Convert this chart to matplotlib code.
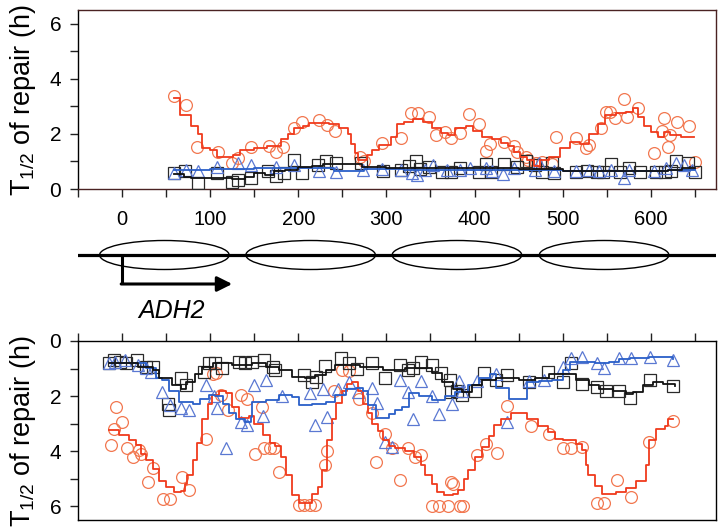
import matplotlib
matplotlib.use("Agg")
import matplotlib.pyplot as plt
from matplotlib.patches import Ellipse
import numpy as np

plt.rcParams['font.family'] = ['Liberation Sans', 'DejaVu Sans']
plt.rcParams['mathtext.fontset'] = 'custom'
plt.rcParams['mathtext.rm'] = 'Liberation Sans'
plt.rcParams['mathtext.it'] = 'Liberation Sans:italic'

# ---------------- top panel data ----------------
top_red_x = [59, 72, 85, 109, 125, 132, 146, 167, 175, 183, 195, 204, 224, 232, 242, 270, 274, 295, 316, 328,
             336, 348, 356, 366, 373, 384, 394, 405, 413, 418, 433, 445, 448, 458, 461, 470, 477, 488, 493, 515,
             527, 530, 543, 549, 554, 559, 570, 573, 585, 604, 613, 615, 619, 622, 630, 643, 650]
top_red_y = [3.36, 3.05, 1.54, 1.36, 0.94, 1.12, 1.54, 1.56, 1.33, 1.54, 2.2, 2.42, 2.5, 2.33, 2.12, 1.17, 1.0, 1.67,
             1.85, 2.75, 2.75, 2.63, 1.97, 2.08, 1.87, 2.05, 2.72, 2.36, 1.38, 1.64, 1.72, 1.56, 1.35, 1.17, 1.05,
             0.94, 0.98, 0.9, 1.9, 1.87, 1.48, 1.6, 2.23, 2.78, 2.8, 2.57, 3.27, 2.6, 2.93, 1.32, 2.1, 2.57, 1.54,
             1.97, 2.42, 2.27, 0.97]
top_red_sx = [59, 66, 78, 86, 91, 100, 108, 126, 134, 150, 165, 180, 188, 195, 205, 212, 235, 246, 256, 260, 264,
              268, 278, 284, 292, 305, 312, 320, 330, 342, 352, 362, 370, 378, 390, 398, 408, 420, 430, 438, 445,
              452, 460, 468, 474, 485, 497, 508, 520, 530, 540, 548, 560, 572, 580, 586, 592, 600, 608, 615, 622,
              634, 649]
top_red_sy = [3.3, 2.7, 2.3, 2.0, 1.5, 1.4, 1.15, 1.25, 1.4, 1.5, 1.55, 1.8, 2.0, 2.2, 2.3, 2.4, 2.35, 2.2, 2.0, 1.65,
              1.3, 1.05, 1.25, 1.4, 1.6, 1.9, 2.35, 2.45, 2.55, 2.45, 2.2, 2.05, 1.95, 2.2, 2.3, 2.1, 1.9, 1.8, 1.67,
              1.56, 1.35, 1.17, 1.05, 0.85, 1.05, 1.17, 1.5, 1.7, 1.65, 2.0, 2.35, 2.7, 2.75, 2.8, 2.93, 2.6, 2.27,
              2.08, 1.9, 2.08, 1.96, 1.9, 1.9]

top_blk_x = [59, 71, 86, 108, 125, 132, 146, 166, 175, 184, 195, 204, 222, 231, 243, 271, 296, 316, 326, 333, 338,
             348, 363, 373, 384, 405, 413, 419, 433, 448, 458, 469, 477, 488, 490, 515, 528, 539, 546, 555, 565, 575,
             588, 606, 616, 623, 629, 642, 650]
top_blk_y = [0.58, 0.64, 0.23, 0.58, 0.27, 0.33, 0.4, 0.64, 0.46, 0.58, 1.05, 0.58, 0.88, 1.0, 0.94, 0.94, 0.65, 0.7,
             0.85, 1.0, 0.72, 0.8, 0.63, 0.63, 0.75, 0.63, 0.9, 0.63, 0.9, 0.8, 1.03, 0.87, 0.63, 0.94, 0.58, 0.63,
             0.66, 0.63, 0.6, 0.9, 0.63, 0.75, 0.6, 0.6, 0.63, 0.66, 1.0, 0.94, 0.6]
top_blk_sx = [59, 70, 78, 125, 140, 150, 162, 172, 185, 200, 215, 228, 272, 300, 350, 400, 450, 500, 560, 620, 635, 650]
top_blk_sy = [0.55, 0.45, 0.4, 0.35, 0.45, 0.58, 0.52, 0.64, 0.7, 0.8, 0.85, 0.9, 0.8, 0.75, 0.78, 0.75, 0.72, 0.65,
              0.65, 0.7, 0.75, 0.75]

top_blu_x = [59, 72, 86, 108, 132, 146, 175, 195, 224, 243, 273, 295, 316, 329, 335, 344, 353, 369, 384, 395, 413,
             420, 432, 445, 469, 473, 490, 515, 530, 541, 555, 570, 575, 604, 617, 629, 638, 647]
top_blu_y = [0.58, 0.7, 0.64, 0.8, 0.94, 0.88, 0.8, 0.88, 0.64, 0.6, 0.7, 0.73, 0.68, 0.58, 0.52, 0.7, 0.88, 0.7,
             0.68, 0.75, 0.75, 0.65, 0.55, 0.75, 0.7, 0.94, 0.65, 0.65, 0.68, 0.65, 0.7, 0.4, 0.7, 0.65, 0.75, 0.94,
             0.88, 0.7]
top_blu_sx = [59, 100, 150, 200, 240, 275, 320, 380, 450, 500, 560, 620, 650]
top_blu_sy = [0.7, 0.72, 0.75, 0.78, 0.65, 0.72, 0.7, 0.68, 0.68, 0.65, 0.65, 0.7, 0.72]

# ---------------- bottom panel data ----------------
bot_red_x = [-13, -9, -7, 0, 6, 12, 19, 21, 29, 35, 46, 54, 68, 76, 95, 103, 107, 112, 120, 135, 142, 151, 159, 161,
             168, 172, 178, 201, 207, 213, 219, 230, 233, 241, 250, 258, 269, 284, 288, 298, 306, 315, 324, 332, 339,
             352, 360, 370, 373, 376, 384, 387, 403, 413, 425, 437, 464, 485, 500, 509, 522, 539, 547, 562, 578, 598,
             625]
bot_red_y = [3.78, 3.2, 2.4, 2.93, 3.9, 4.2, 3.95, 4.1, 5.13, 4.6, 5.75, 5.75, 4.95, 5.4, 3.55, 1.2, 1.17, 1.95, 2.5,
             1.95, 2.12, 4.1, 2.4, 3.9, 3.9, 3.9, 4.75, 5.95, 5.95, 5.95, 5.95, 4.5, 4.0, 1.8, 1.05, 1.1, 2.12, 2.6,
             4.4, 3.38, 3.9, 5.05, 3.9, 4.2, 4.15, 6.0, 6.0, 6.0, 5.13, 5.2, 6.0, 6.0, 4.15, 3.75, 4.08, 2.37, 3.1,
             3.38, 3.88, 3.88, 3.85, 5.9, 5.9, 5.05, 5.67, 3.65, 2.9]
bot_red_sx = [-15, -3, 8, 16, 21, 27, 35, 42, 50, 59, 67, 71, 74, 80, 85, 91, 97, 102, 110, 118, 125, 133, 144, 150,
              160, 168, 174, 180, 186, 193, 201, 209, 216, 222, 227, 233, 238, 243, 250, 255, 261, 268, 273, 279,
              284, 290, 296, 303, 310, 321, 331, 339, 344, 352, 357, 365, 375, 381, 388, 393, 401, 409, 416, 422,
              430, 441, 456, 460, 472, 483, 491, 500, 515, 522, 526, 529, 537, 545, 560, 572, 583, 595, 598, 606,
              616, 619, 625]
bot_red_sy = [3.24, 3.42, 3.6, 3.78, 4.1, 4.33, 4.64, 5.07, 5.3, 5.5, 5.45, 5.2, 4.85, 4.33, 3.7, 2.85, 2.27, 1.97,
              1.8, 1.9, 2.4, 2.8, 2.72, 3.0, 3.42, 3.72, 3.8, 4.2, 4.85, 5.6, 5.9, 5.9, 5.55, 5.3, 4.7, 3.6, 2.83,
              2.25, 1.8, 1.55, 1.5, 1.8, 2.3, 2.6, 3.0, 3.25, 3.6, 3.8, 3.9, 4.0, 4.2, 4.5, 4.85, 5.2, 5.5, 5.6, 5.55,
              5.4, 5.0, 4.7, 4.2, 3.85, 3.45, 3.05, 2.85, 2.6, 2.6, 2.85, 3.1, 3.3, 3.55, 3.6, 3.75, 3.95, 4.5, 4.85,
              5.25, 5.55, 5.5, 5.35, 5.1, 4.5, 3.6, 3.2, 3.1, 2.85, 2.85]

bot_blk_x = [-15, -9, -2, 5, 17, 27, 35, 52, 53, 67, 72, 93, 99, 106, 113, 133, 140, 148, 161, 171, 174, 207, 215,
             220, 230, 249, 257, 267, 284, 298, 315, 324, 330, 339, 352, 362, 372, 373, 380, 386, 401, 411, 424, 437,
             462, 483, 500, 509, 522, 539, 549, 564, 576, 599, 625]
bot_blk_y = [0.8, 0.69, 0.75, 0.8, 0.7, 0.93, 0.93, 2.3, 2.5, 1.35, 1.6, 1.12, 0.8, 0.8, 0.98, 0.75, 0.8, 0.75, 0.69,
             0.93, 1.05, 1.24, 1.5, 1.3, 0.9, 0.62, 0.8, 1.0, 0.8, 1.35, 0.87, 1.05, 0.98, 0.75, 0.87, 1.17, 1.4,
             1.85, 1.8, 1.97, 1.8, 1.15, 1.4, 1.25, 1.5, 1.12, 1.5, 0.8, 1.55, 1.67, 1.8, 1.8, 2.07, 1.42, 1.65]
bot_blk_sx = [-15, 18, 35, 42, 57, 67, 73, 83, 91, 103, 125, 148, 163, 178, 193, 208, 219, 231, 242, 270, 296, 321,
              339, 352, 363, 375, 386, 397, 409, 424, 450, 469, 484, 515, 530, 541, 557, 572, 580, 591, 602, 614, 627]
bot_blk_sy = [0.8, 0.93, 1.05, 1.35, 1.6, 1.75, 1.5, 1.2, 0.93, 0.8, 0.87, 0.8, 0.93, 1.05, 1.3, 1.35, 1.25, 1.05,
              0.87, 0.93, 1.05, 0.98, 0.98, 1.17, 1.5, 1.75, 1.85, 1.6, 1.4, 1.35, 1.4, 1.35, 1.2, 1.4, 1.6, 1.75,
              1.8, 1.92, 1.85, 1.6, 1.5, 1.55, 1.65]

bot_blu_x = [-15, -8, 3, 18, 27, 33, 45, 54, 67, 76, 95, 104, 108, 118, 135, 142, 150, 160, 163, 181, 213, 219, 228,
             233, 245, 258, 268, 284, 289, 298, 306, 315, 324, 330, 339, 352, 360, 374, 382, 386, 403, 424, 437, 462,
             479, 500, 509, 522, 539, 547, 564, 578, 599, 625]
bot_blu_y = [0.8, 0.75, 0.69, 0.87, 0.98, 1.12, 1.85, 2.33, 2.45, 2.5, 1.6, 2.0, 2.45, 3.9, 2.95, 3.05, 1.6, 2.72,
             1.42, 2.0, 1.9, 3.05, 1.75, 2.75, 1.75, 1.5, 1.85, 1.7, 2.25, 3.68, 3.85, 1.4, 1.85, 2.83, 1.45, 2.0,
             2.65, 2.27, 1.45, 1.8, 1.45, 1.2, 2.95, 1.45, 1.4, 0.93, 0.62, 0.57, 0.8, 0.98, 0.62, 0.62, 0.57, 0.69]
bot_blu_sx = [-15, 12, 27, 38, 45, 53, 65, 80, 89, 99, 106, 114, 121, 129, 140, 146, 148, 163, 178, 193, 201, 216,
              231, 242, 254, 265, 273, 279, 288, 303, 310, 318, 326, 337, 352, 367, 378, 393, 405, 418, 424, 439,
              460, 473, 488, 500, 508, 537, 553, 564, 576, 598, 625]
bot_blu_sy = [0.8, 0.8, 0.98, 1.35, 1.42, 1.8, 2.2, 2.27, 2.1, 1.97, 2.0, 2.27, 2.6, 2.83, 2.95, 2.75, 2.2, 2.15,
              1.97, 2.03, 2.33, 2.27, 2.2, 1.97, 1.75, 1.7, 1.8, 2.33, 2.8, 2.65, 2.5, 2.4, 1.9, 2.0, 2.15, 2.0, 1.85,
              1.6, 1.35, 1.2, 1.7, 2.1, 1.5, 1.45, 1.4, 1.05, 0.75, 0.8, 0.75, 0.65, 0.6, 0.58, 0.65]

# ---------------- gene schematic ----------------
xticks_major = [0, 100, 200, 300, 400, 500, 600]
xticks_minor = [-50, 50, 150, 250, 350, 450, 550, 650]
yticks_major = [0, 2, 4, 6]
yticks_minor = [1, 3, 5]
nuc_centers = [48, 214, 380, 547]
nuc_width = 147
tss = 0
arrow_end = 125
gene_name = 'ADH2'

RED_L, RED_M = '#f03a1c', '#f2774f'
BLK_L, BLK_M = '#111111', '#2a2a2a'
BLU_L, BLU_M = '#2a5fc8', '#5a78d2'

W, H = 726, 529
fig = plt.figure(figsize=(W / 100, H / 100), dpi=100)

def fr(x0, y0, x1, y1):
    return [x0 / W, 1 - y1 / H, (x1 - x0) / W, (y1 - y0) / H]

ax1 = fig.add_axes(fr(78, 10, 716, 189))
ax2 = fig.add_axes(fr(78, 341, 716, 520))
axm = fig.add_axes(fr(78, 228, 716, 330))

XL = (-50, 674)

def draw(ax, rx, ry, rsx, rsy, kx, ky, ksx, ksy, bx, by, bsx, bsy):
    ms = 8.5
    ax.plot(rx, ry, 'o', ms=ms, mfc='none', mec=RED_M, mew=0.9, zorder=3)
    ax.plot(kx, ky, 's', ms=ms, mfc='none', mec=BLK_M, mew=0.9, zorder=3)
    ax.plot(bx, by, '^', ms=ms, mfc='none', mec=BLU_M, mew=0.9, zorder=3)
    ax.plot(rsx, rsy, drawstyle='steps-post', color=RED_L, lw=1.3, zorder=4)
    ax.plot(bsx, bsy, drawstyle='steps-post', color=BLU_L, lw=1.3, zorder=4)
    ax.plot(ksx, ksy, drawstyle='steps-post', color=BLK_L, lw=1.3, zorder=4)
    ax.set_xlim(*XL)
    ax.set_xticks(xticks_major)
    ax.set_xticks(xticks_minor, minor=True)
    ax.set_yticks(yticks_major)
    ax.set_yticks(yticks_minor, minor=True)
    ax.tick_params(axis='both', which='both', direction='out', length=6, width=1.0, color='#222222')
    ax.tick_params(axis='y', labelsize=15, pad=6)
    ax.set_ylabel(r'T$_{\mathit{1/2}}$ of repair (h)', fontsize=19.5)
    ax.yaxis.set_label_coords(-0.062, 0.5)
    for s in ax.spines.values():
        s.set_linewidth(1.0)

draw(ax1, top_red_x, top_red_y, top_red_sx, top_red_sy, top_blk_x, top_blk_y, top_blk_sx, top_blk_sy,
     top_blu_x, top_blu_y, top_blu_sx, top_blu_sy)
ax1.set_ylim(0, 6.5)
ax1.tick_params(axis='x', labelsize=14.5, pad=9)
for side in ('top', 'bottom', 'right'):
    ax1.spines[side].set_color('#4a2222')

draw(ax2, bot_red_x, bot_red_y, bot_red_sx, bot_red_sy, bot_blk_x, bot_blk_y, bot_blk_sx, bot_blk_sy,
     bot_blu_x, bot_blu_y, bot_blu_sx, bot_blu_sy)
ax2.set_ylim(6.5, 0)
ax2.xaxis.tick_top()
ax2.tick_params(axis='x', labeltop=False, labelbottom=False)

# schematic
axm.set_xlim(*XL)
axm.set_ylim(330, 228)
axm.axis('off')
axm.axhline(255, color='black', lw=2.3, zorder=1)
for c in nuc_centers:
    axm.add_patch(Ellipse((c, 255), nuc_width, 29, fill=False, ec='black', lw=1.0, zorder=2))
axm.plot([tss, tss], [255, 284], color='black', lw=2.2, solid_capstyle='butt')
axm.annotate('', xy=(arrow_end, 284), xytext=(tss - 1, 284),
             arrowprops=dict(arrowstyle='-|>,head_length=0.9,head_width=0.45', lw=2.2, color='black',
                             shrinkA=0, shrinkB=0))
axm.text(56, 311, gene_name, fontsize=18, style='italic', ha='center', va='center')

fig.savefig('out.png', dpi=100)
